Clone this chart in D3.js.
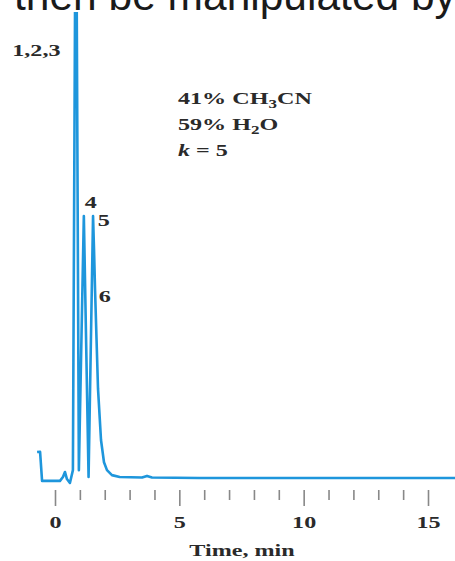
<!DOCTYPE html>
<html lang="en">
<head>
<meta charset="UTF-8">
<title>Chromatogram</title>
<script src="https://d3js.org/d3.v7.min.js"></script>
<style>
    body { margin: 0; background: #fff; }
    svg { display: block; }
    .serif { font-family: "Liberation Serif", "DejaVu Serif", serif; fill: #2a2a2a; }
</style>
</head>
<body>
<svg width="455" height="561"></svg>
<script>
// retention time (min) and detector signal (arbitrary units, baseline = 0)
const timeMin = [-0.72, -0.6, -0.52, 0.2, 0.32, 0.4, 0.48, 0.6, 0.72, 0.84, 0.96, 1.16, 1.35, 1.53, 1.57, 1.61, 1.67, 1.73, 1.85, 1.97, 2.09, 2.29, 2.6, 3.5, 3.7, 3.9, 5.8, 16.1];
const signal  = [9.9, 10, -1.1, -1.1, 0.4, 2.3, -0.4, -1.9, 3, 250, 3, 100, 0.4, 100, 87, 72, 53, 34, 14.5, 6, 3, 1.1, 0.4, 0.2, 0.8, 0.2, 0, 0];

const majorTicks = [0, 5, 10, 15];
const minorTicks = [1, 2, 3, 4, 6, 7, 8, 9, 11, 12, 13, 14];
const peakLabels = ["1,2,3", "4", "5", "6"];
const peakLabelTime = [-1.72, 1.2, 1.72, 1.76];
const peakLabelSignal = [161, 103, 96, 67];
const conditions = ["41% CH", "59% H", "k = 5"];

const svg = d3.select("svg");
const stretch = 1.42; // the scanned figure is wider than it is tall

const x = d3.scaleLinear().domain([0, 15]).range([55, 428]);
const y = d3.scaleLinear().domain([0, 100]).range([478, 216]);

// caption text cut off at the top of the picture
svg.append("text")
    .attr("x", 14).attr("y", 10)
    .style("font-family", "'Liberation Sans', Arial, sans-serif")
    .style("font-size", "42.5px")
    .style("fill", "#1a1a1a")
    .text("then be manipulated by");

svg.append("clipPath").attr("id", "plotClip")
    .append("rect").attr("x", 0).attr("y", 12).attr("width", 455).attr("height", 549);

const pts = timeMin.map((t, i) => [t, signal[i]]);
const line = d3.line().x(d => x(d[0])).y(d => y(d[1]));

svg.append("path")
    .datum(pts)
    .attr("clip-path", "url(#plotClip)")
    .attr("d", line)
    .attr("fill", "none")
    .attr("stroke", "#1e96dc")
    .attr("stroke-width", 2.6)
    .attr("stroke-linejoin", "round");

// axis: minor ticks then major ticks with labels
const minorAxis = svg.append("g")
    .attr("transform", "translate(0,490)")
    .call(d3.axisBottom(x).tickValues(minorTicks).tickSize(10).tickFormat(""));
const majorAxis = svg.append("g")
    .attr("transform", "translate(0,490)")
    .call(d3.axisBottom(x).tickValues(majorTicks).tickSize(16).tickFormat(d3.format("d")));

svg.selectAll(".domain").remove();
svg.selectAll(".tick line").attr("stroke", "#888").attr("stroke-width", 1.6);

majorAxis.selectAll(".tick text")
    .attr("class", "serif")
    .attr("y", 0).attr("dy", null)
    .attr("transform", `translate(0,38) scale(${stretch},1)`)
    .style("font-size", "17px")
    .style("font-weight", "bold");

function stretchedText(px, py, anchor) {
    return svg.append("text")
        .attr("class", "serif")
        .attr("transform", `translate(${px},${py}) scale(${stretch},1)`)
        .attr("text-anchor", anchor)
        .style("font-size", "17px")
        .style("font-weight", "bold");
}

stretchedText(242, 556, "middle").text("Time, min");

// peak numbers
peakLabels.forEach((lab, i) => {
    stretchedText(x(peakLabelTime[i]), y(peakLabelSignal[i]), "start").text(lab);
});

// mobile phase annotation
const c1 = stretchedText(178, 104, "start");
c1.append("tspan").text(conditions[0]);
c1.append("tspan").attr("dy", 4).style("font-size", "12px").text("3");
c1.append("tspan").attr("dy", -4).text("CN");
const c2 = stretchedText(178, 130, "start");
c2.append("tspan").text(conditions[1]);
c2.append("tspan").attr("dy", 4).style("font-size", "12px").text("2");
c2.append("tspan").attr("dy", -4).text("O");
const c3 = stretchedText(178, 156, "start");
c3.append("tspan").style("font-style", "italic").text("k");
c3.append("tspan").text(" = 5");
</script>
</body>
</html>
